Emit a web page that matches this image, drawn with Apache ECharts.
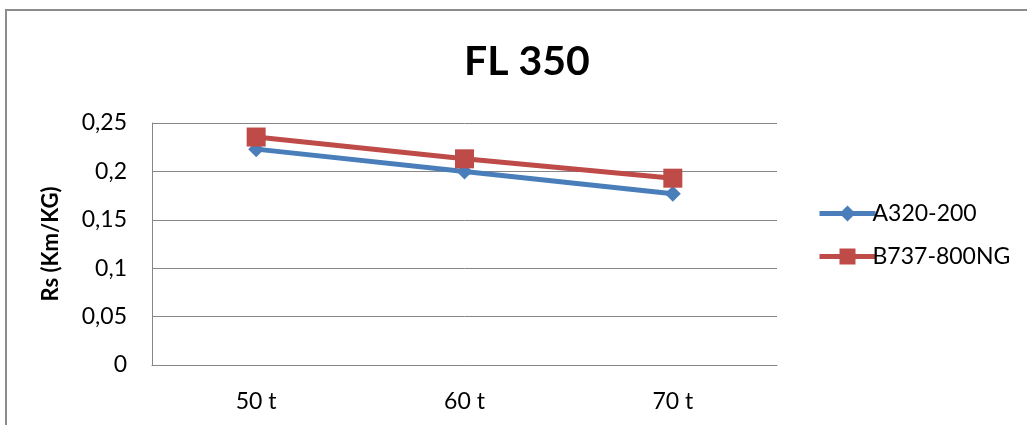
<!DOCTYPE html>
<html>
<head>
<meta charset="utf-8">
<script src="https://cdn.jsdelivr.net/npm/echarts@6/dist/echarts.min.js"></script>
<style>
  html, body { margin: 0; padding: 0; background: #fff; }
  #chart { width: 1027px; height: 425px; }
</style>
</head>
<body>
<div id="chart"></div>
<script>
const categories = ['50 t', '60 t', '70 t']
const a320 = [0.223, 0.2, 0.177]
const b737 = [0.2355, 0.213, 0.193]
const yTicks = [0, 0.05, 0.1, 0.15, 0.2, 0.25]

const font = 'Lato, "Open Sans", sans-serif'
const chart = echarts.init(document.getElementById('chart'))

chart.setOption({
  animation: false,
  textStyle: { fontFamily: font },
  title: {
    text: 'FL 350',
    left: 522,
    top: 36,
    textAlign: 'center',
    textStyle: { fontSize: 41, fontWeight: 'bold', color: '#000', fontFamily: font }
  },
  graphic: [{
    type: 'rect',
    shape: { x: 6, y: 10, width: 1040, height: 440 },
    style: { fill: 'none', stroke: '#8c8c8c', lineWidth: 2 }
  }],
  legend: {
    orient: 'vertical',
    left: 812,
    top: 197,
    itemWidth: 56,
    itemHeight: 20,
    itemGap: 20,
    lineStyle: { width: 5 },
    textStyle: { fontSize: 23, color: '#000', fontFamily: font, padding: [0, 0, 0, -8] },
    data: ['A320-200', 'B737-800NG']
  },
  grid: { left: 152, top: 123, width: 625, height: 242 },
  xAxis: {
    type: 'category',
    data: categories,
    axisLine: { lineStyle: { color: '#868686', width: 1 } },
    axisTick: { show: false },
    axisLabel: { fontSize: 23, color: '#000', margin: 25, fontFamily: font }
  },
  yAxis: {
    type: 'value',
    min: yTicks[0],
    max: yTicks[yTicks.length - 1],
    interval: 0.05,
    name: 'Rs (Km/KG)',
    nameLocation: 'middle',
    nameGap: 90,
    nameTextStyle: { fontSize: 22, fontWeight: 'bold', color: '#000', fontFamily: font },
    axisLine: { show: true, lineStyle: { color: '#868686', width: 1 } },
    axisTick: { show: false },
    splitLine: { lineStyle: { color: '#868686', width: 1 } },
    axisLabel: {
      fontSize: 23, color: '#000', margin: 25, fontFamily: font,
      formatter: v => String(Math.round(v * 100) / 100).replace('.', ',')
    }
  },
  series: [
    {
      name: 'A320-200',
      type: 'line',
      data: a320,
      symbol: 'diamond',
      symbolSize: 16,
      lineStyle: { color: '#4a7ebb', width: 5 },
      itemStyle: { color: '#4a7ebb' },
      z: 2
    },
    {
      name: 'B737-800NG',
      type: 'line',
      data: b737,
      symbol: 'rect',
      symbolSize: 19,
      lineStyle: { color: '#be4b48', width: 5 },
      itemStyle: { color: '#be4b48' },
      z: 3
    }
  ]
})
</script>
</body>
</html>
